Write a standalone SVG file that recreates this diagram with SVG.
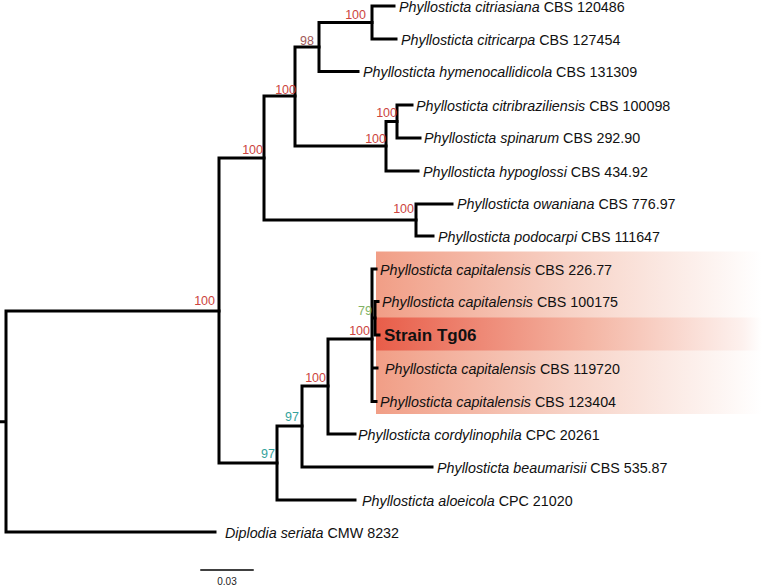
<svg xmlns="http://www.w3.org/2000/svg" width="762" height="587" viewBox="0 0 762 587">
<defs>
<linearGradient id="gLight" x1="0" y1="0" x2="1" y2="0">
<stop offset="0" stop-color="#f19e86"/>
<stop offset="0.5" stop-color="#f7d2c6"/>
<stop offset="1" stop-color="#ffffff"/>
</linearGradient>
<linearGradient id="gStrain" x1="0" y1="0" x2="1" y2="0">
<stop offset="0" stop-color="#e85d49"/>
<stop offset="0.55" stop-color="#f4b5a3"/>
<stop offset="0.95" stop-color="#fdf1ee"/>
<stop offset="1" stop-color="#ffffff"/>
</linearGradient>
<style>
.br{fill:none;stroke:#000;stroke-width:3;stroke-linecap:square}
.lf{font-family:"Liberation Sans",Arial,sans-serif;font-size:14.3px;fill:#111}
.sp{font-style:italic}
.bs{font-family:"Liberation Sans",Arial,sans-serif;font-size:12.5px;text-anchor:end}
.r{fill:#cc4440}
.m{fill:#a25a5a}
.g{fill:#82b265}
.t{fill:#35a29c}
</style>
</defs>
<rect width="762" height="587" fill="#ffffff"/>
<g id="highlight">
<rect x="376" y="251.5" width="386" height="162.5" fill="url(#gLight)"/>
<rect x="376" y="317.5" width="386" height="33" fill="url(#gStrain)"/>
</g>
<g id="connectors">
<path class="br" d="M0,421.7 H6 M6,311 V532 M6,311 H219 M6,532 H215"/>
<path class="br" d="M219,158 V463 M219,158 H264 M219,463 H277"/>
<path class="br" d="M264,96 V220 M264,96 H295 M264,220 H416"/>
<path class="br" d="M295,47 V146 M295,47 H319 M295,146 H386"/>
<path class="br" d="M319,22.5 V71.5 M319,22.5 H372 M319,71.5 H358"/>
<path class="br" d="M372,6 V39 M372,6 H394 M372,39 H396"/>
<path class="br" d="M386,121.5 V171 M386,121.5 H397 M386,171 H418"/>
<path class="br" d="M397,105 V138 M397,105 H412 M397,138 H420"/>
<path class="br" d="M416,204 V236 M416,204 H452 M416,236 H433"/>
<path class="br" d="M277,426 V500 M277,426 H302 M277,500 H355"/>
<path class="br" d="M302,386 V467 M302,386 H328 M302,467 H432"/>
<path class="br" d="M328,339 V434 M328,339 H372 M328,434 H355"/>
<path class="br" d="M372,269 V401.5 M372,269 H376 M372,368 H377 M372,401.5 H376 M372,318 H375"/>
<path class="br" d="M375,301.5 V335 M375,301.5 H378 M375,335 H379"/>
<path class="br" style="stroke-width:1.5" d="M201,570 H253"/>
</g>
<g id="support">
<text class="bs r" x="366" y="19">100</text>
<text class="bs m" x="314" y="45">98</text>
<text class="bs r" x="296" y="94">100</text>
<text class="bs r" x="397" y="117">100</text>
<text class="bs r" x="386" y="143">100</text>
<text class="bs r" x="263" y="154">100</text>
<text class="bs r" x="414" y="213">100</text>
<text class="bs r" x="215" y="305">100</text>
<text class="bs g" x="372" y="315">79</text>
<text class="bs r" x="370" y="335">100</text>
<text class="bs r" x="326" y="382">100</text>
<text class="bs t" x="299" y="421">97</text>
<text class="bs t" x="275" y="458">97</text>
</g>
<g id="n-citriasiana"><text class="lf" x="399" y="12"><tspan class="sp">Phyllosticta citriasiana</tspan> CBS 120486</text></g>
<g id="n-citricarpa"><text class="lf" x="401" y="44.5"><tspan class="sp">Phyllosticta citricarpa</tspan> CBS 127454</text></g>
<g id="n-hymenocallidicola"><text class="lf" x="363" y="77"><tspan class="sp">Phyllosticta hymenocallidicola</tspan> CBS 131309</text></g>
<g id="n-citribraziliensis"><text class="lf" x="416" y="110.5"><tspan class="sp">Phyllosticta citribraziliensis</tspan> CBS 100098</text></g>
<g id="n-spinarum"><text class="lf" x="424" y="143"><tspan class="sp">Phyllosticta spinarum</tspan> CBS 292.90</text></g>
<g id="n-hypoglossi"><text class="lf" x="423" y="176.5"><tspan class="sp">Phyllosticta hypoglossi</tspan> CBS 434.92</text></g>
<g id="n-owaniana"><text class="lf" x="457" y="209"><tspan class="sp">Phyllosticta owaniana</tspan> CBS 776.97</text></g>
<g id="n-podocarpi"><text class="lf" x="438" y="241.5"><tspan class="sp">Phyllosticta podocarpi</tspan> CBS 111647</text></g>
<g id="n-cap22677"><text class="lf" x="380" y="274.5"><tspan class="sp">Phyllosticta capitalensis</tspan> CBS 226.77</text></g>
<g id="n-cap100175"><text class="lf" x="382" y="307"><tspan class="sp">Phyllosticta capitalensis</tspan> CBS 100175</text></g>
<g id="n-strain"><text x="384" y="341" style="font-family:'Liberation Sans',Arial,sans-serif;font-size:17px;font-weight:bold;fill:#111">Strain Tg06</text></g>
<g id="n-cap119720"><text class="lf" x="385" y="373.5"><tspan class="sp">Phyllosticta capitalensis</tspan> CBS 119720</text></g>
<g id="n-cap123404"><text class="lf" x="380" y="407"><tspan class="sp">Phyllosticta capitalensis</tspan> CBS 123404</text></g>
<g id="n-cordylinophila"><text class="lf" x="358" y="439.5"><tspan class="sp">Phyllosticta cordylinophila</tspan> CPC 20261</text></g>
<g id="n-beaumarisii"><text class="lf" x="437" y="472.5"><tspan class="sp">Phyllosticta beaumarisii</tspan> CBS 535.87</text></g>
<g id="n-aloeicola"><text class="lf" x="362" y="505.5"><tspan class="sp">Phyllosticta aloeicola</tspan> CPC 21020</text></g>
<g id="n-diplodia"><text class="lf" x="225" y="537.5"><tspan class="sp">Diplodia seriata</tspan> CMW 8232</text></g>
<g id="scale"><text x="227" y="585" style="font-family:'Liberation Sans',Arial,sans-serif;font-size:10px;fill:#222;text-anchor:middle">0.03</text></g>
</svg>
